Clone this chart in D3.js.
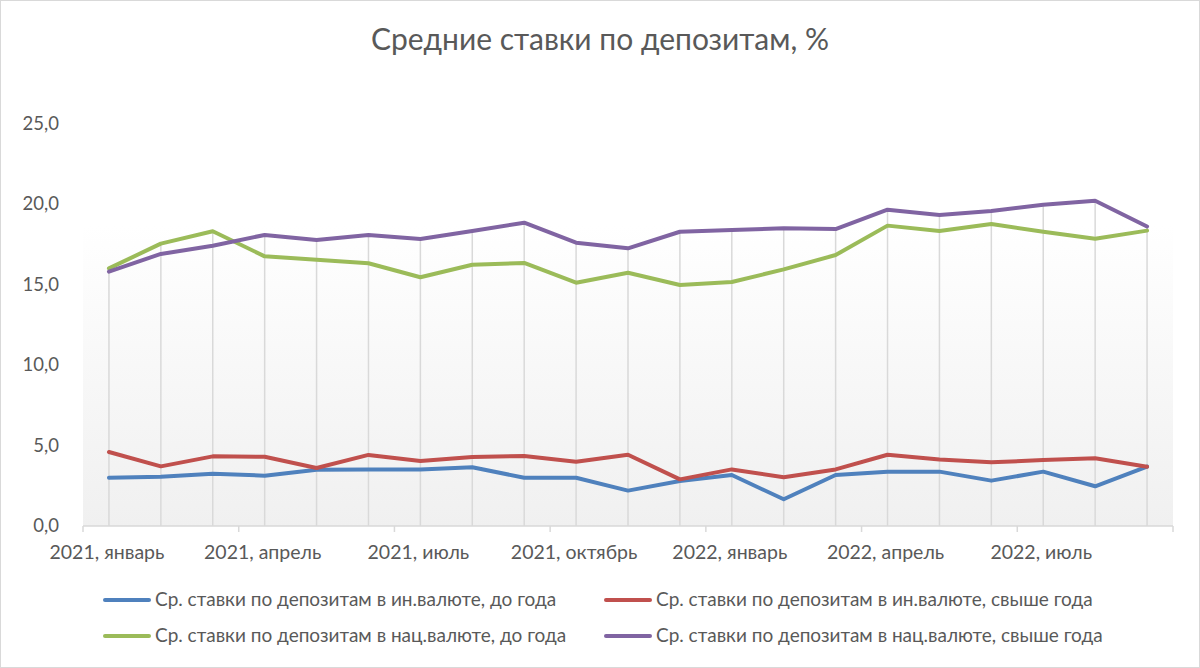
<!DOCTYPE html>
<html><head><meta charset="utf-8">
<script src="https://cdn.jsdelivr.net/npm/d3@7"></script>
<style>body{margin:0;background:#fff}svg{display:block}</style>
</head><body><svg id="c" width="1200" height="668"></svg>
<script>
const months = ["2021, январь","2021, февраль","2021, март","2021, апрель","2021, май","2021, июнь","2021, июль","2021, август","2021, сентябрь","2021, октябрь","2021, ноябрь","2021, декабрь","2022, январь","2022, февраль","2022, март","2022, апрель","2022, май","2022, июнь","2022, июль","2022, август","2022, сентябрь"];
const tickLabels = ["2021, январь","2021, апрель","2021, июль","2021, октябрь","2022, январь","2022, апрель","2022, июль"];
const yTicks = [0,5,10,15,20,25];
const fxShort = [3.0,3.07,3.25,3.13,3.5,3.52,3.52,3.65,3.0,3.0,2.2,2.8,3.17,1.66,3.17,3.38,3.38,2.82,3.38,2.47,3.69];
const fxLong = [4.6,3.71,4.33,4.31,3.61,4.42,4.04,4.29,4.35,4.0,4.43,2.9,3.52,3.03,3.52,4.43,4.13,3.96,4.1,4.21,3.69];
const natShort = [16.02,17.56,18.33,16.77,16.56,16.34,15.47,16.25,16.36,15.13,15.75,14.99,15.17,15.96,16.85,18.68,18.35,18.78,18.3,17.87,18.37];
const natLong = [15.82,16.92,17.43,18.1,17.79,18.1,17.85,18.35,18.86,17.62,17.27,18.3,18.41,18.51,18.47,19.67,19.34,19.59,19.98,20.23,18.63];
const seriesNames = ["Ср. ставки по депозитам в ин.валюте, до года","Ср. ставки по депозитам в ин.валюте, свыше года","Ср. ставки по депозитам в нац.валюте, до года","Ср. ставки по депозитам в нац.валюте, свыше года"];
const colors = ["#4F81BD","#C0504D","#9BBB59","#8064A2"];
const seriesData = [fxShort, fxLong, natShort, natLong];

const svg = d3.select("#c");
const W=1200,H=668;
const L=83,R=1173,T=124,B=526;
const font = "Lato, 'Open Sans', sans-serif";
const txt = "#595959";

svg.append("rect").attr("x",0.5).attr("y",0.5).attr("width",W-1).attr("height",H-1).attr("fill","#fff").attr("stroke","#d9d9d9");

const defs = svg.append("defs");
const g = defs.append("linearGradient").attr("id","bg").attr("x1",0).attr("y1",0).attr("x2",0).attr("y2",1);
g.append("stop").attr("offset","0%").attr("stop-color","#ffffff");
g.append("stop").attr("offset","25%").attr("stop-color","#ffffff");
g.append("stop").attr("offset","100%").attr("stop-color","#f0f0f0");

const x = d3.scaleBand().domain(months).range([L,R]);
const y = d3.scaleLinear().domain([0,25]).range([B,T]);

svg.append("rect").attr("x",L).attr("y",T).attr("width",R-L).attr("height",B-T).attr("fill","url(#bg)");

// drop lines
const cx = m => x(m)+x.bandwidth()/2;
svg.append("g").selectAll("line").data(months).join("line")
  .attr("x1",cx).attr("x2",cx)
  .attr("y1",(m,i)=>y(d3.max(seriesData,s=>s[i]))).attr("y2",B)
  .attr("stroke","#d9d9d9").attr("stroke-width",1.5);

// x axis
svg.append("line").attr("x1",L).attr("x2",R).attr("y1",B).attr("y2",B).attr("stroke","#d9d9d9").attr("stroke-width",1.5);
const bounds = d3.range(0,22,3).map(i=>L+i*x.step());
svg.append("g").selectAll("line").data(bounds).join("line")
  .attr("x1",d=>d).attr("x2",d=>d).attr("y1",B).attr("y2",B+6).attr("stroke","#d9d9d9").attr("stroke-width",1.5);
svg.append("g").selectAll("text").data(tickLabels).join("text")
  .attr("x",d=>cx(d)-2).attr("y",B+33).attr("text-anchor","middle")
  .attr("font-family",font).attr("font-size",19.5).attr("fill",txt).text(d=>d);

// y axis labels
svg.append("g").selectAll("text").data(yTicks).join("text")
  .attr("x",59).attr("y",d=>y(d)+6).attr("text-anchor","end")
  .attr("font-family",font).attr("font-size",18.5).attr("fill",txt)
  .text(d=>d3.format(".1f")(d).replace(".",","));

// lines
const line = d3.line().x((d,i)=>cx(months[i])).y(d=>y(d));
seriesData.forEach((s,k)=>{
  svg.append("path").datum(s).attr("d",line).attr("fill","none")
    .attr("stroke",colors[k]).attr("stroke-width",4).attr("stroke-linejoin","round").attr("stroke-linecap","round");
});

// title
svg.append("text").attr("x",600).attr("y",50).attr("text-anchor","middle")
  .attr("font-family",font).attr("font-size",30).attr("fill",txt).text("Средние ставки по депозитам, %");

// legend
const legPos = [[105,600],[606,600],[105,636],[606,636]];
seriesNames.forEach((n,k)=>{
  const [lx,ly]=legPos[k];
  svg.append("line").attr("x1",lx).attr("x2",lx+44).attr("y1",ly).attr("y2",ly).attr("stroke",colors[k]).attr("stroke-width",4).attr("stroke-linecap","round");
  svg.append("text").attr("x",lx+50).attr("y",ly+6).attr("font-family",font).attr("font-size",19).attr("fill",txt).text(n);
});
</script></body></html>
